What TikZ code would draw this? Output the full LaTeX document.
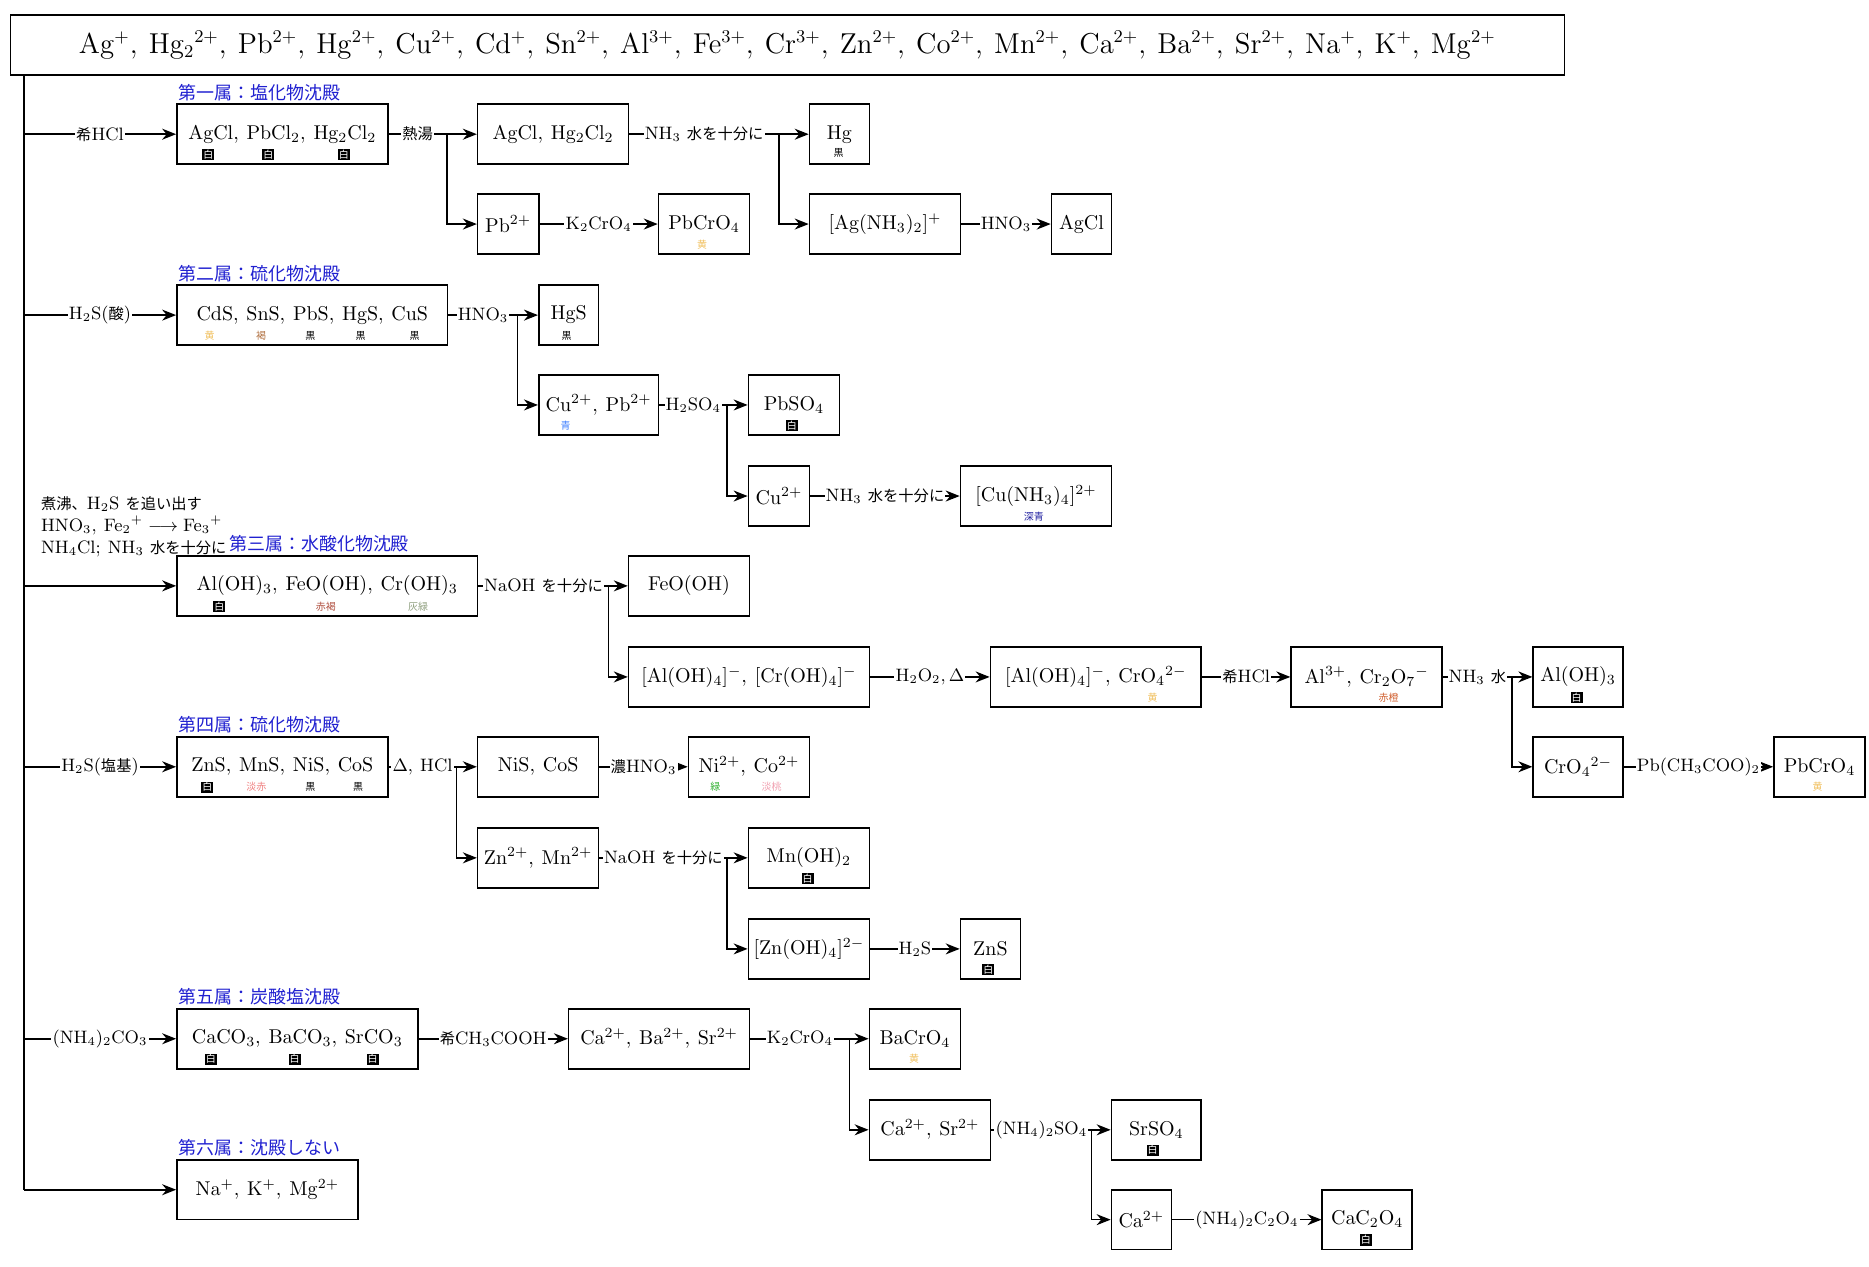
\documentclass[tikz,border=0pt]{standalone}
\usepackage[no-math]{fontspec}
\newfontfamily\cjk[Scale=0.85]{Noto Sans CJK JP}
\newfontfamily\cjkh{Noto Sans CJK JP}
\usetikzlibrary{arrows.meta}
\newcommand{\J}[1]{{\cjk #1}}
\newcommand{\ce}[1]{$\mathrm{#1}$}
\definecolor{cyel}{HTML}{F0C060}
\definecolor{cbrn}{HTML}{B07040}
\definecolor{crbr}{HTML}{B05040}
\definecolor{cgg}{HTML}{90A080}
\definecolor{cblu}{HTML}{4080FF}
\definecolor{cdb}{HTML}{2020A0}
\definecolor{cro}{HTML}{D06030}
\definecolor{cpr}{HTML}{F08080}
\definecolor{cgr}{HTML}{30B030}
\definecolor{cpk}{HTML}{F0A0B0}
\definecolor{head}{HTML}{2020D0}
\begin{document}
\begin{tikzpicture}[x=0.6pt,y=-0.6pt,line width=0.8pt,
  box/.style={draw,minimum height=30pt,anchor=west,inner sep=2pt,font=\normalsize},
  w/.style={minimum width=#1*0.6pt},
  lbl/.style={fill=white,inner sep=0.6pt,font=\small},
  hd/.style={anchor=south west,inner sep=1pt,font=\cjkh\small,text=head},
  cl/.style={font=\cjkh\tiny,inner sep=0.5pt},
  wl/.style={cl,fill=black,text=white},
  >={Stealth[length=7pt,width=5.5pt]}]
\useasboundingbox (0,0) rectangle (1560,1057.5);
\node[draw,anchor=north west,minimum width=1297*0.6pt,minimum height=50*0.6pt,font=\fontsize{13.5}{16}\selectfont] (top) at (8,12)
 {\ce{Ag^+,\:Hg_2{}^{2+},\:Pb^{2+},\:Hg^{2+},\:Cu^{2+},\:Cd^+,\:Sn^{2+},\:Al^{3+},\:Fe^{3+},\:Cr^{3+},\:Zn^{2+},\:Co^{2+},\:Mn^{2+},\:Ca^{2+},\:Ba^{2+},\:Sr^{2+},\:Na^+,\:K^+,\:Mg^{2+}}};
\coordinate (tr0) at (20,62);
\coordinate (tr1) at (20,112);
\coordinate (tr2) at (20,263);
\coordinate (tr3) at (20,489);
\coordinate (tr4) at (20,640);
\coordinate (tr5) at (20,867);
\coordinate (tr6) at (20,993);
\draw (tr0) -- (tr6);
% ---- group 1
\node[box,w=176] (A1) at (147,112) {\ce{AgCl,\:PbCl_2,\:Hg_2Cl_2}};
\node[hd] (h1) at (A1.north west) {第一属：塩化物沈殿};
\node[box,w=126] (A2) at (398,112) {\ce{AgCl,\:Hg_2Cl_2}};
\node[box,w=50] (Hg) at (675,112) {\ce{Hg}};
\node[box,w=51] (Pb) at (398,187) {\ce{Pb^{2+}}};
\node[box,w=76] (PbCr1) at (549,187) {\ce{PbCrO_4}};
\node[box,w=126] (AgN) at (675,187) {\ce{[Ag(NH_3)_2]^+}};
\node[box,w=50] (AgCl) at (877,187) {\ce{AgCl}};
\draw[->] (tr1) -- node[lbl]{\J{希}HCl} (A1.west);
\coordinate (b1) at (373,112);
\draw (A1.east) -- node[lbl]{\J{熱湯}} (b1);
\draw[->] (b1) -- (A2.west);
\draw[->] (b1) |- (Pb.west);
\coordinate (b2) at (650,112);
\draw (A2.east) -- node[lbl]{NH$_3$ \J{水を十分に}} (b2);
\draw[->] (b2) -- (Hg.west);
\draw[->] (b2) |- (AgN.west);
\draw[->] (Pb.east) -- node[lbl]{\ce{K_2CrO_4}} (PbCr1.west);
\draw[->] (AgN.east) -- node[lbl]{\ce{HNO_3}} (AgCl.west);
\node[wl] at (174,129) {白};
\node[wl] at (224,129) {白};
\node[wl] at (287,129) {白};
\node[cl] at (700,128) {黒};
\node[cl,text=cyel] at (586,204) {黄};
% ---- group 2
\node[box,w=226] (B1) at (147,263) {\ce{CdS,\:SnS,\:PbS,\:HgS,\:CuS}};
\node[hd] (h2) at (B1.north west) {第二属：硫化物沈殿};
\node[box,w=50] (HgS) at (449,263) {\ce{HgS}};
\node[box,w=100] (CuPb) at (449,338) {\ce{Cu^{2+},\:Pb^{2+}}};
\node[box,w=76] (PbSO) at (624,338) {\ce{PbSO_4}};
\node[box,w=51] (Cu) at (624,414) {\ce{Cu^{2+}}};
\node[box,w=126] (CuN) at (801,414) {\ce{[Cu(NH_3)_4]^{2+}}};
\draw[->] (tr2) -- node[lbl]{\ce{H_2S}(\J{酸})} (B1.west);
\coordinate (b3) at (432,263);
\draw (B1.east) -- node[lbl]{\ce{HNO_3}} (b3);
\draw[->] (b3) -- (HgS.west);
\draw[->] (b3) |- (CuPb.west);
\coordinate (b4) at (607,338);
\draw (CuPb.east) -- node[lbl]{\ce{H_2SO_4}} (b4);
\draw[->] (b4) -- (PbSO.west);
\draw[->] (b4) |- (Cu.west);
\draw[->] (Cu.east) -- node[lbl]{NH$_3$ \J{水を十分に}} (CuN.west);
\node[cl,text=cyel] at (175,280) {黄};
\node[cl,text=cbrn] at (218,280) {褐};
\node[cl] at (259,280) {黒};
\node[cl] at (301,280) {黒};
\node[cl] at (346,280) {黒};
\node[cl] at (473,280) {黒};
\node[cl,text=cblu] at (472,355) {青};
\node[wl] at (661,355) {白};
\node[cl,text=cdb] at (863,431) {深青};
% ---- group 3
\node[box,w=251] (C1) at (147,489) {\ce{Al(OH)_3,\:FeO(OH),\:Cr(OH)_3}};
\node[hd] (h3) at ([xshift=42*0.6pt]C1.north west) {第三属：水酸化物沈殿};
\node[anchor=south west,inner sep=1pt,font=\small,align=left] (note) at (32,467)
 {\J{煮沸、}\ce{H_2S} \J{を追い出す}\\ \ce{HNO_3,\:Fe_2{}^+ \longrightarrow Fe_3{}^+}\\ \ce{NH_4Cl;\:NH_3} \J{水を十分に}};
\node[box,w=101] (FeO) at (524,489) {\ce{FeO(OH)}};
\node[box,w=201] (AlCr) at (524,565) {\ce{[Al(OH)_4]^-,\:[Cr(OH)_4]^-}};
\node[box,w=176] (AlCrO) at (826,565) {\ce{[Al(OH)_4]^-,\:CrO_4{}^{2-}}};
\node[box,w=126] (AlCr2) at (1077,565) {\ce{Al^{3+},\:Cr_2O_7{}^-}};
\node[box,w=75] (AlOH) at (1279,565) {\ce{Al(OH)_3}};
\node[box,w=75] (CrO) at (1279,640) {\ce{CrO_4{}^{2-}}};
\node[box,w=76] (PbCr2) at (1480,640) {\ce{PbCrO_4}};
\draw[->] (tr3) -- (C1.west);
\coordinate (b5) at (508,489);
\draw (C1.east) -- node[lbl]{NaOH \J{を十分に}} (b5);
\draw[->] (b5) -- (FeO.west);
\draw[->] (b5) |- (AlCr.west);
\draw[->] (AlCr.east) -- node[lbl]{\ce{H_2O_2,\Delta}} (AlCrO.west);
\draw[->] (AlCrO.east) -- node[lbl]{\J{希}HCl} (AlCr2.west);
\coordinate (b6) at (1262,565);
\draw (AlCr2.east) -- node[lbl]{NH$_3$ \J{水}} (b6);
\draw[->] (b6) -- (AlOH.west);
\draw[->] (b6) |- (CrO.west);
\draw[->] (CrO.east) -- node[lbl]{\ce{Pb(CH_3COO)_2}} (PbCr2.west);
\node[wl] at (183,506) {白};
\node[cl,text=crbr] at (272,506) {赤褐};
\node[cl,text=cgg] at (349,506) {灰緑};
\node[cl,text=cyel] at (962,582) {黄};
\node[cl,text=cro] at (1159,582) {赤橙};
\node[wl] at (1316,582) {白};
\node[cl,text=cyel] at (1517,657) {黄};
% ---- group 4
\node[box,w=176] (D1) at (147,640) {\ce{ZnS,\:MnS,\:NiS,\:CoS}};
\node[hd] (h4) at (D1.north west) {第四属：硫化物沈殿};
\node[box,w=101] (NiCo) at (398,640) {\ce{NiS,\:CoS}};
\node[box,w=101] (NiCo2) at (574,640) {\ce{Ni^{2+},\:Co^{2+}}};
\node[box,w=101] (ZnMn) at (398,716) {\ce{Zn^{2+},\:Mn^{2+}}};
\node[box,w=101] (MnOH) at (624,716) {\ce{Mn(OH)_2}};
\node[box,w=101] (ZnOH) at (624,792) {\ce{[Zn(OH)_4]^{2-}}};
\node[box,w=50] (ZnS) at (801,792) {\ce{ZnS}};
\draw[->] (tr4) -- node[lbl]{\ce{H_2S}(\J{塩基})} (D1.west);
\coordinate (b7) at (381,640);
\draw (D1.east) -- node[lbl]{\ce{\Delta,\:HCl}} (b7);
\draw[->] (b7) -- (NiCo.west);
\draw[->] (b7) |- (ZnMn.west);
\draw[->] (NiCo.east) -- node[lbl]{\J{濃}HNO$_3$} (NiCo2.west);
\coordinate (b8) at (607,716);
\draw (ZnMn.east) -- node[lbl]{NaOH \J{を十分に}} (b8);
\draw[->] (b8) -- (MnOH.west);
\draw[->] (b8) |- (ZnOH.west);
\draw[->] (ZnOH.east) -- node[lbl]{\ce{H_2S}} (ZnS.west);
\node[wl] at (173,657) {白};
\node[cl,text=cpr] at (214,657) {淡赤};
\node[cl] at (259,657) {黒};
\node[cl] at (299,657) {黒};
\node[cl,text=cgr] at (597,657) {緑};
\node[cl,text=cpk] at (644,657) {淡桃};
\node[wl] at (674,733) {白};
\node[wl] at (825,809) {白};
% ---- group 5
\node[box,w=201] (E1) at (147,867) {\ce{CaCO_3,\:BaCO_3,\:SrCO_3}};
\node[hd] (h5) at (E1.north west) {第五属：炭酸塩沈殿};
\node[box,w=151] (CBS) at (474,867) {\ce{Ca^{2+},\:Ba^{2+},\:Sr^{2+}}};
\node[box,w=76] (BaCr) at (725,867) {\ce{BaCrO_4}};
\node[box,w=101] (CaSr) at (725,943) {\ce{Ca^{2+},\:Sr^{2+}}};
\node[box,w=75] (SrSO) at (927,943) {\ce{SrSO_4}};
\node[box,w=50] (Ca) at (927,1018) {\ce{Ca^{2+}}};
\node[box,w=75] (CaC) at (1103,1018) {\ce{CaC_2O_4}};
\draw[->] (tr5) -- node[lbl]{\ce{(NH_4)_2CO_3}} (E1.west);
\draw[->] (E1.east) -- node[lbl]{\J{希}CH$_3$COOH} (CBS.west);
\coordinate (b9) at (709,867);
\draw (CBS.east) -- node[lbl]{\ce{K_2CrO_4}} (b9);
\draw[->] (b9) -- (BaCr.west);
\draw[->] (b9) |- (CaSr.west);
\coordinate (b10) at (911,943);
\draw (CaSr.east) -- node[lbl]{\ce{(NH_4)_2SO_4}} (b10);
\draw[->] (b10) -- (SrSO.west);
\draw[->] (b10) |- (Ca.west);
\draw[->] (Ca.east) -- node[lbl]{\ce{(NH_4)_2C_2O_4}} (CaC.west);
\node[wl] at (176,884) {白};
\node[wl] at (246,884) {白};
\node[wl] at (311,884) {白};
\node[cl,text=cyel] at (763,884) {黄};
\node[wl] at (962,960) {白};
\node[wl] at (1140,1035) {白};
% ---- group 6
\node[box,w=151] (F1) at (147,993) {\ce{Na^+,\:K^+,\:Mg^{2+}}};
\node[hd] (h6) at (F1.north west) {第六属：沈殿しない};
\draw[->] (tr6) -- (F1.west);
\end{tikzpicture}
\end{document}
